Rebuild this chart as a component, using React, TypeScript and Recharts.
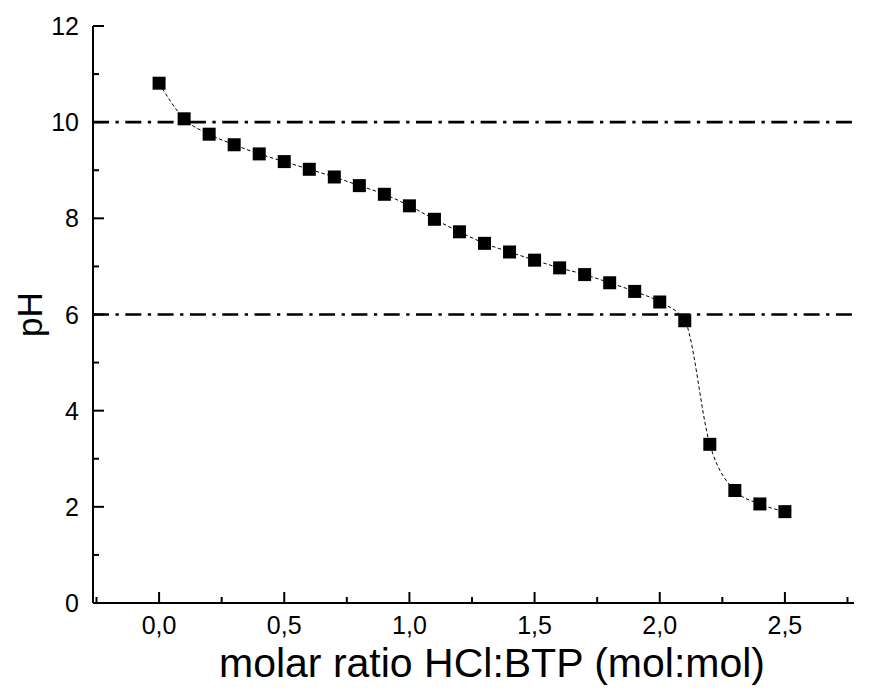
import React from 'react';
import { LineChart, Line, XAxis, YAxis, ReferenceLine, Label } from 'recharts';

const ratios = [0, 0.1, 0.2, 0.3, 0.4, 0.5, 0.6, 0.7, 0.8, 0.9, 1.0, 1.1, 1.2, 1.3, 1.4, 1.5, 1.6, 1.7, 1.8, 1.9, 2.0, 2.1, 2.2, 2.3, 2.4, 2.5];
const pHValues = [10.81, 10.07, 9.75, 9.53, 9.34, 9.18, 9.02, 8.86, 8.68, 8.5, 8.26, 7.98, 7.72, 7.48, 7.3, 7.13, 6.97, 6.83, 6.66, 6.48, 6.26, 5.87, 3.3, 2.34, 2.06, 1.9];
const xTicks = [-0.25, 0, 0.25, 0.5, 0.75, 1.0, 1.25, 1.5, 1.75, 2.0, 2.25, 2.5, 2.75];
const yTicks = [0, 1, 2, 3, 4, 5, 6, 7, 8, 9, 10, 11, 12];
const refLevels = [10, 6];
const xTitle = 'molar ratio HCl:BTP (mol:mol)';
const yTitle = 'pH';

const data = ratios.map((r, i) => ({ x: r, y: pHValues[i] }));

const FONT = '"Liberation Sans", Arial, sans-serif';
const MAJOR = 11;
const MINOR = 6;
const X_DOMAIN: [number, number] = [-0.264, 2.776];

const isMajorX = (v: number) => Math.abs(v * 2 - Math.round(v * 2)) < 1e-6;
const isMajorY = (v: number) => Math.abs(v / 2 - Math.round(v / 2)) < 1e-6;
const fmtX = (v: number) => v.toFixed(1).replace('.', ',');

const BottomTick = (p: any) => {
  const v = p.payload.value;
  const major = isMajorX(v);
  const showLabel = major && v >= 0 && v <= 2.5;
  return (
    <g>
      <line x1={p.x} x2={p.x} y1={p.y} y2={p.y - (major ? MAJOR : MINOR)} stroke="#000" strokeWidth={2} />
      {showLabel && (
        <text x={p.x} y={p.y + 31} textAnchor="middle" fontSize={25} fontFamily={FONT} fill="#000">
          {fmtX(v)}
        </text>
      )}
    </g>
  );
};

const TopTick = (p: any) => {
  const v = p.payload.value;
  const major = isMajorX(v);
  return <line x1={p.x} x2={p.x} y1={p.y} y2={p.y + (major ? MAJOR : MINOR)} stroke="#000" strokeWidth={2} />;
};

const LeftTick = (p: any) => {
  const v = p.payload.value;
  const major = isMajorY(v);
  return (
    <g>
      <line x1={p.x} x2={p.x + (major ? MAJOR : MINOR)} y1={p.y} y2={p.y} stroke="#000" strokeWidth={2} />
      {major && (
        <text x={p.x - 14} y={p.y + 9} textAnchor="end" fontSize={25} fontFamily={FONT} fill="#000">
          {String(v)}
        </text>
      )}
    </g>
  );
};

const RightTick = (p: any) => {
  const v = p.payload.value;
  const major = isMajorY(v);
  return <line x1={p.x} x2={p.x - (major ? MAJOR : MINOR)} y1={p.y} y2={p.y} stroke="#000" strokeWidth={2} />;
};

const SquareDot = (p: any) => {
  if (p.cx == null || p.cy == null) return <g key={p.index} />;
  return <rect key={p.index} x={p.cx - 6.5} y={p.cy - 6.5} width={13} height={13} fill="#000" />;
};

const XTitle = (p: any) => {
  const vb = p.viewBox;
  return (
    <text x={vb.x + 399} y={vb.y + 74} textAnchor="middle" fontSize={41} fontFamily={FONT} fill="#000">
      {xTitle}
    </text>
  );
};

const YTitle = (p: any) => {
  const vb = p.viewBox;
  const cx = vb.x + 42;
  const cy = vb.y + vb.height / 2;
  return (
    <text x={cx} y={cy} transform={`rotate(-90 ${cx} ${cy})`} textAnchor="middle" fontSize={35} fontFamily={FONT} fill="#000">
      {yTitle}
    </text>
  );
};

const axisLine = { stroke: '#000', strokeWidth: 2 };

export default function App() {
  return (
    <div style={{ position: 'absolute', left: 0, top: 0, width: 874, height: 693, overflow: 'hidden', background: '#fff' }}>
      <LineChart width={874} height={693} data={data} margin={{ top: 26, right: 20, bottom: 0, left: 0 }}>
        <XAxis
          xAxisId="b"
          orientation="bottom"
          type="number"
          dataKey="x"
          domain={X_DOMAIN}
          ticks={xTicks}
          interval={0}
          allowDataOverflow
          height={90}
          tickSize={0}
          tickMargin={0}
          tickLine={false}
          axisLine={axisLine}
          tick={BottomTick}
        >
          <Label content={XTitle} />
        </XAxis>
        <XAxis
          xAxisId="t"
          orientation="top"
          type="number"
          dataKey="x"
          domain={X_DOMAIN}
          ticks={xTicks}
          interval={0}
          allowDataOverflow
          height={0}
          tickSize={0}
          tickMargin={0}
          tickLine={false}
          axisLine={axisLine}
          tick={TopTick}
        />
        <YAxis
          yAxisId="l"
          orientation="left"
          type="number"
          domain={[0, 12]}
          ticks={yTicks}
          interval={0}
          allowDataOverflow
          width={93}
          tickSize={0}
          tickMargin={0}
          tickLine={false}
          axisLine={axisLine}
          tick={LeftTick}
        >
          <Label content={YTitle} />
        </YAxis>
        <YAxis
          yAxisId="r"
          orientation="right"
          type="number"
          domain={[0, 12]}
          ticks={yTicks}
          interval={0}
          allowDataOverflow
          width={0}
          tickSize={0}
          tickMargin={0}
          tickLine={false}
          axisLine={axisLine}
          tick={RightTick}
        />
        {refLevels.map((lv) => (
          <ReferenceLine
            key={lv}
            xAxisId="b"
            yAxisId="l"
            y={lv}
            stroke="#000"
            strokeWidth={2.7}
            strokeDasharray="16 6.5 3.3 6.5"
          />
        ))}
        <Line
          xAxisId="b"
          yAxisId="l"
          type="monotone"
          dataKey="y"
          stroke="#000"
          strokeWidth={1}
          strokeDasharray="3.5 2.5"
          dot={SquareDot}
          activeDot={false}
          isAnimationActive={false}
        />
      </LineChart>
    </div>
  );
}
